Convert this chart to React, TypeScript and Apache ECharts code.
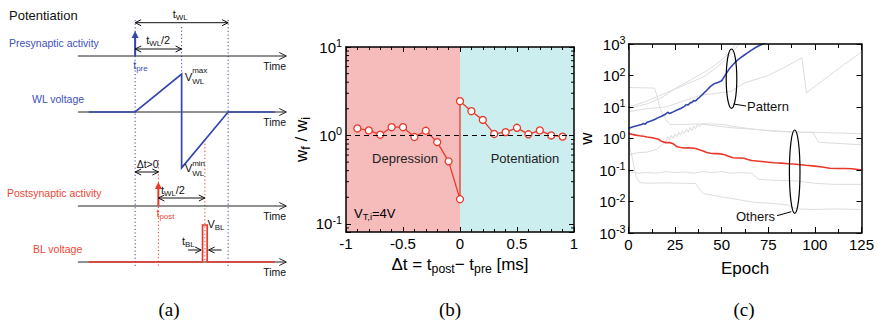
import React, { useEffect, useRef } from 'react';
import * as echarts from 'echarts';

// ---------------- (a) schematic timing values (time unit = t_WL / 2) ----------------
const tPre = 0;
const tWL = 2;
const deltaT = 0.5;
const tBL = 0.1;
const wlWaveT = [-1, 0, 1, 1, 2, 3];
const wlWaveV = [0, 0, 1, -1.47, 0, 0];
const blWaveT = [-1, 1.45, 1.45, 1.55, 1.55, 3];
const blWaveV = [0, 0, 1, 1, 0, 0];
const spikeV = 1;

// ---------------- (b) STDP window ----------------
const stdpDt = [-0.9, -0.8, -0.7, -0.6, -0.5, -0.4, -0.3, -0.2, -0.1, 0, 0, 0.1, 0.2, 0.3, 0.4, 0.5, 0.6, 0.7, 0.8, 0.9];
const stdpRatio = [1.2, 1.14, 1.02, 1.24, 1.24, 0.96, 1.13, 0.84, 0.51, 0.19, 2.44, 1.88, 1.5, 1.04, 1.09, 1.22, 1.03, 1.14, 1.0, 0.97];
const bMinorTicks = [0.09, 0.2, 0.3, 0.4, 0.5, 0.6, 0.7, 0.8, 0.9, 2, 3, 4, 5, 6, 7, 8, 9];

// ---------------- (c) weight evolution ----------------
const patternEpoch = [0, 1, 2, 3, 4, 5, 6, 7, 8, 9, 10, 12, 14, 16, 18, 20, 21, 22, 23, 24, 26, 28, 30, 31, 32, 33, 34, 35, 36, 37, 38, 40, 42, 44, 46, 48, 50, 52, 54, 56, 58, 60, 62, 64, 66, 68, 70, 72, 74];
const patternW = [2.1, 2.2, 2.3, 2.4, 2.5, 2.6, 2.7, 2.8, 3.0, 2.85, 3.3, 3.6, 4.0, 4.6, 5.2, 6.0, 6.8, 6.2, 6.6, 7.0, 8.0, 9.0, 10.5, 12, 11.5, 13.5, 14, 16, 15.5, 18, 20, 26, 34, 45, 55, 60, 68, 105, 160, 220, 290, 360, 440, 530, 640, 760, 880, 1000, 1150];
const redEpoch = [0, 2, 4, 6, 8, 10, 12, 14, 16, 18, 20, 22, 24, 26, 28, 30, 32, 34, 36, 38, 40, 42, 44, 46, 48, 50, 52, 54, 56, 58, 60, 62, 64, 66, 70, 74, 78, 82, 86, 90, 95, 100, 104, 108, 112, 116, 120, 125];
const redW = [1.45, 1.35, 1.28, 1.22, 1.18, 1.12, 1.08, 1.02, 0.95, 0.8, 0.74, 0.75, 0.68, 0.55, 0.52, 0.5, 0.51, 0.5, 0.48, 0.44, 0.4, 0.36, 0.34, 0.33, 0.33, 0.32, 0.3, 0.27, 0.245, 0.24, 0.24, 0.235, 0.215, 0.2, 0.19, 0.18, 0.17, 0.165, 0.158, 0.152, 0.142, 0.133, 0.125, 0.114, 0.112, 0.112, 0.11, 0.1];
const other1Epoch = [0, 8, 16, 24, 32, 40, 46, 52, 56, 60];
const other1W = [10, 14, 22, 35, 56, 89, 158, 316, 562, 1120];
const other2Epoch = [0, 10, 18, 26, 34, 42, 48, 54, 58];
const other2W = [8.9, 12.6, 20, 42, 76, 141, 251, 501, 1120];
const other3Epoch = [0, 14, 15.5, 17, 20, 22, 30, 38, 45, 55, 65, 75, 85, 95, 99, 102, 110, 125];
const other3W = [41.7, 39.8, 20, 8.9, 4, 2.8, 2.8, 2.9, 2.6, 2.2, 2, 1.8, 1.66, 1.58, 1.51, 0.76, 0.71, 0.63];
const other4Epoch = [0, 10, 20, 30, 39, 45, 55, 62, 75, 85, 93, 95.5, 100, 110, 125];
const other4W = [7.1, 8.9, 10, 15.8, 24, 26.3, 31.6, 57.5, 100, 200, 363, 28.2, 44.7, 126, 562];
const other5Epoch = [0, 5, 10, 15, 18, 20, 21, 22, 23, 24, 25, 26, 27, 28, 29, 30, 31, 32, 33, 34, 35, 36, 37, 38, 39, 40, 50, 60, 70, 80, 90, 100, 110, 125];
const other5W = [0.3, 0.355, 0.37, 0.45, 0.63, 0.79, 1.12, 0.89, 1.26, 1.0, 1.41, 1.12, 1.58, 1.26, 1.78, 1.41, 2.0, 1.58, 2.24, 1.78, 2.51, 2.0, 2.82, 2.4, 2.88, 2.95, 2.82, 2.24, 1.9, 1.66, 1.58, 1.58, 1.51, 1.41];
const other6Epoch = [0, 5, 10, 15, 20, 25, 30, 35, 40, 45, 50, 55, 60, 66, 70, 80, 90, 100, 110, 125];
const other6W = [0.089, 0.079, 0.083, 0.079, 0.089, 0.083, 0.087, 0.079, 0.089, 0.083, 0.089, 0.079, 0.083, 0.079, 0.05, 0.047, 0.045, 0.038, 0.035, 0.035];
const other7Epoch = [0, 2, 4, 6, 10, 20, 30, 36, 38, 40, 45, 50, 55, 60, 68, 75, 85, 90, 100, 110, 125];
const other7W = [0.72, 0.25, 0.063, 0.04, 0.038, 0.039, 0.038, 0.037, 0.025, 0.018, 0.016, 0.014, 0.0126, 0.0112, 0.0093, 0.0089, 0.0079, 0.0058, 0.0056, 0.0058, 0.0056];
const othersEpoch = [other1Epoch, other2Epoch, other3Epoch, other4Epoch, other5Epoch, other6Epoch, other7Epoch];
const othersW = [other1W, other2W, other3W, other4W, other5W, other6W, other7W];

const FONT = '"Liberation Sans", Arial, Helvetica, sans-serif';
const SERIF = '"Liberation Serif", "Times New Roman", serif';
const BLUE = '#3446ad';
const BLUE_TXT = '#4050b5';
const RED = '#e8392b';
const RED_TXT = '#ee4636';
const PINK = '#f6bcbc';
const CYAN = '#cdeeee';
const GREY = '#dddddd';

const zip = (a: number[], b: number[]) => a.map((v, i) => [v, b[i]]);

const smallRich = (size: number, color: string) => ({
  n: { fontSize: size, fontFamily: FONT, color },
  sub: { fontSize: size * 0.72, fontFamily: FONT, color, padding: [Math.round(size * 0.55), 0, 0, 0] },
  sup: { fontSize: size * 0.72, fontFamily: FONT, color, padding: [0, 0, Math.round(size * 0.55), 0] },
});

const logLabel = (v: number) => {
  const l = Math.log10(v);
  const e = Math.round(l);
  if (Math.abs(l - e) > 1e-6) return '';
  return `{n|10}{sup|${e}}`;
};

// layout of the schematic rows (pixel baselines and amplitude)
const ROWS = {
  pre: { base: 56, amp: 25 },
  wl: { base: 112, amp: 38 },
  post: { base: 206, amp: 24 },
  bl: { base: 262, amp: 37 },
};
const AXIS_T = [-1.23, 3.25];

function renderSchematic(_params: any, api: any) {
  const X = (t: number) => api.coord([t, 0])[0];
  const Y = (p: number) => api.coord([0, p])[1];
  const kids: any[] = [];
  const line = (pts: number[][], stroke: string, lw = 1, dash?: number[]) =>
    kids.push({ type: 'polyline', shape: { points: pts }, style: { stroke, lineWidth: lw, fill: 'none', lineDash: dash || null } });
  const txt = (x: number, y: number, s: string, size: number, color: string, align = 'left', rich?: any) =>
    kids.push({
      type: 'text',
      style: { text: s, x, y, fill: color, fontSize: size, fontFamily: FONT, align, verticalAlign: 'middle', textAlign: align, textVerticalAlign: 'middle', rich },
    });
  const dimArrow = (t1: number, t2: number, py: number) => {
    const a = X(t1), b = X(t2), y = Y(py);
    line([[a, y], [b, y]], '#111', 1);
    line([[a + 6, y - 3], [a, y], [a + 6, y + 3]], '#111', 1);
    line([[b - 6, y - 3], [b, y], [b - 6, y + 3]], '#111', 1);
  };
  const spike = (t: number, row: { base: number; amp: number }, color: string) => {
    const x = X(t), y0 = Y(row.base), y1 = Y(row.base - spikeV * row.amp);
    line([[x, y0], [x, y1 + 5]], color, 2);
    kids.push({ type: 'polygon', shape: { points: [[x, y1], [x - 3.5, y1 + 7], [x + 3.5, y1 + 7]] }, style: { fill: color } });
  };

  // dotted guide lines
  const dot = [1.2, 2.4];
  line([[X(tPre), Y(20)], [X(tPre), Y(266)]], BLUE, 1, dot);
  line([[X(tPre + tWL), Y(20)], [X(tPre + tWL), Y(266)]], BLUE, 1, dot);
  line([[X(tPre + tWL / 2), Y(27)], [X(tPre + tWL / 2), Y(74)]], BLUE, 1, dot);
  line([[X(tPre + deltaT), Y(160)], [X(tPre + deltaT), Y(266)]], RED, 1, dot);
  line([[X(tPre + deltaT + tWL / 2), Y(140)], [X(tPre + deltaT + tWL / 2), Y(262)]], RED, 1, dot);

  // time axes
  (Object.keys(ROWS) as (keyof typeof ROWS)[]).forEach((k) => {
    const y = Y(ROWS[k].base);
    const x0 = X(AXIS_T[0]), x1 = X(AXIS_T[1]);
    line([[x0, y], [x1, y]], '#222', 1);
    line([[x1 - 7, y - 3.5], [x1, y], [x1 - 7, y + 3.5]], '#222', 1);
    txt(x1 - 23, y + 9.5, 'Time', 10.5, '#111');
  });

  // waveforms
  line(wlWaveT.map((t, i) => [X(t), Y(ROWS.wl.base - wlWaveV[i] * ROWS.wl.amp)]), BLUE, 1.7);
  line(blWaveT.map((t, i) => [X(t), Y(ROWS.bl.base - blWaveV[i] * ROWS.bl.amp)]), RED, 1.7);
  spike(tPre, ROWS.pre, BLUE);
  spike(tPre + deltaT, ROWS.post, RED);

  // dimension arrows
  dimArrow(tPre, tPre + tWL, 22.7);
  dimArrow(tPre, tPre + tWL / 2, 49);
  dimArrow(tPre, tPre + deltaT, 172);
  dimArrow(tPre + deltaT, tPre + deltaT + tWL / 2, 198);
  const blC = tPre + deltaT + tWL / 2;
  const bl1 = X(blC - tBL / 2 - 0.03), bl2 = X(blC + tBL / 2 + 0.03), by = Y(250);
  line([[bl1 - 13, by], [bl1, by]], '#111', 1);
  line([[bl1 - 6, by - 3], [bl1, by], [bl1 - 6, by + 3]], '#111', 1);
  line([[bl2 + 13, by], [bl2, by]], '#111', 1);
  line([[bl2 + 6, by - 3], [bl2, by], [bl2 + 6, by + 3]], '#111', 1);

  // texts
  const rb = smallRich(11, '#111');
  const rBlue = smallRich(11, BLUE_TXT);
  const rRed = smallRich(11, RED_TXT);
  txt(9, Y(15), 'Potentiation', 13, '#111');
  txt(X(tPre + tWL / 2) - 9, Y(14), '{n|t}{sub|WL}', 11, '#111', 'left', rb);
  txt(9, Y(43), 'Presynaptic activity', 10.5, BLUE_TXT);
  txt(X(tPre) + 11, Y(40), '{n|t}{sub|WL}{n|/2}', 11, '#111', 'left', rb);
  txt(X(tPre) - 2, Y(65), '{n|t}{sub|pre}', 11, BLUE_TXT, 'left', rBlue);
  txt(32, Y(99), 'WL voltage', 10.5, BLUE_TXT);
  const vx = X(tPre + tWL / 2);
  txt(vx + 3, Y(76.5), 'V', 11.5, '#111');
  txt(vx + 10.5, Y(70), 'max', 8, '#111');
  txt(vx + 10.5, Y(81), 'WL', 8, '#111');
  txt(vx + 3, Y(168), 'V', 11.5, '#111');
  txt(vx + 10.5, Y(163), 'min', 8, '#111');
  txt(vx + 10.5, Y(173), 'WL', 8, '#111');
  txt(X(tPre) + 1.5, Y(163.5), 'Δt>0', 10.5, '#111');
  txt(7, Y(193), 'Postsynaptic activity', 10.5, RED_TXT);
  txt(X(tPre + deltaT) + 2.5, Y(190), '{n|t}{sub|WL}{n|/2}', 11, '#111', 'left', rb);
  txt(X(tPre + deltaT) - 2, Y(213), '{n|t}{sub|post}', 11, RED_TXT, 'left', rRed);
  txt(33, Y(248.5), 'BL voltage', 10.5, RED_TXT);
  txt(X(blC) + 2.5, Y(224), '{n|V}{sub|BL}', 11, '#111', 'left', rb);
  txt(X(blC) - 23, Y(241), '{n|t}{sub|BL}', 11, '#111', 'left', rb);

  return { type: 'group', children: kids };
}

function renderMinorTicks(_params: any, api: any) {
  const v = api.value(1);
  const l = api.coord([-1, v]);
  const r = api.coord([1, v]);
  return {
    type: 'group',
    children: [
      { type: 'line', shape: { x1: l[0], y1: l[1], x2: l[0] + 3, y2: l[1] }, style: { stroke: '#000', lineWidth: 1 } },
      { type: 'line', shape: { x1: r[0] - 3, y1: r[1], x2: r[0], y2: r[1] }, style: { stroke: '#000', lineWidth: 1 } },
    ],
  };
}

const AXIS_LINE = { onZero: false, lineStyle: { color: '#000', width: 1.5 } };
const TICK = { inside: true, length: 5, lineStyle: { color: '#000', width: 1 } };
const labelRich = smallRich(15, '#000');

function buildOption(): any {
  const boxAxis = (extra: any) => ({
    z: 10,
    axisLine: AXIS_LINE,
    axisTick: TICK,
    splitLine: { show: false },
    ...extra,
  });
  return {
    animation: false,
    textStyle: { fontFamily: FONT },
    grid: [
      { left: 77, top: 0, width: 209.25, height: 322 },
      { left: 346, top: 47, width: 228, height: 185 },
      { left: 628.5, top: 44, width: 233.5, height: 189 },
    ],
    xAxis: [
      { gridIndex: 0, type: 'value', min: -1.25, max: 3.25, show: false },
      boxAxis({
        gridIndex: 1, type: 'value', min: -1, max: 1, interval: 0.5, position: 'bottom',
        minorTick: { show: true, splitNumber: 5, length: 3, lineStyle: { color: '#000' } },
        axisLabel: { color: '#000', fontSize: 15, fontFamily: FONT, margin: 4 },
        name: '{n|Δt = t}{sub|post}{n|− t}{sub|pre}{n| [ms]}',
        nameLocation: 'middle', nameGap: 21,
        nameTextStyle: { rich: smallRich(17, '#000') },
      }),
      boxAxis({
        gridIndex: 1, type: 'value', min: -1, max: 1, interval: 0.5, position: 'top',
        minorTick: { show: true, splitNumber: 5, length: 3, lineStyle: { color: '#000' } },
        axisLabel: { show: false },
      }),
      boxAxis({
        gridIndex: 2, type: 'value', min: 0, max: 125, interval: 25, position: 'bottom',
        axisTick: { inside: true, length: 6, lineStyle: { color: '#000' } },
        minorTick: { show: true, splitNumber: 2, length: 4, lineStyle: { color: '#000' } },
        axisLabel: { color: '#000', fontSize: 15, fontFamily: FONT, margin: 4 },
        name: 'Epoch', nameLocation: 'middle', nameGap: 27,
        nameTextStyle: { fontSize: 17, color: '#000', fontFamily: FONT },
      }),
      boxAxis({
        gridIndex: 2, type: 'value', min: 0, max: 125, interval: 25, position: 'top',
        axisTick: { inside: true, length: 6, lineStyle: { color: '#000' } },
        minorTick: { show: true, splitNumber: 2, length: 4, lineStyle: { color: '#000' } },
        axisLabel: { show: false },
      }),
    ],
    yAxis: [
      { gridIndex: 0, type: 'value', min: 0, max: 322, inverse: true, show: false },
      boxAxis({
        gridIndex: 1, type: 'log', logBase: 10, min: 0.081, max: 10, splitNumber: 3, position: 'left',
        axisLabel: { formatter: logLabel, rich: labelRich, margin: 4 },
        name: '{n|w}{sub|f}{n| / w}{sub|i}', nameLocation: 'middle', nameGap: 27, nameRotate: 90,
        nameTextStyle: { rich: smallRich(17, '#000') },
      }),
      boxAxis({
        gridIndex: 1, type: 'log', logBase: 10, min: 0.081, max: 10, splitNumber: 3, position: 'right',
        axisLabel: { show: false },
      }),
      boxAxis({
        gridIndex: 2, type: 'log', logBase: 10, min: 0.001, max: 1000, splitNumber: 6, position: 'left',
        axisLabel: { formatter: logLabel, rich: labelRich, margin: 3 },
        name: 'w', nameLocation: 'middle', nameGap: 27, nameRotate: 90,
        nameTextStyle: { fontSize: 17, color: '#000', fontFamily: FONT },
      }),
      boxAxis({
        gridIndex: 2, type: 'log', logBase: 10, min: 0.001, max: 1000, splitNumber: 6, position: 'right',
        axisLabel: { show: false },
      }),
    ],
    series: [
      {
        type: 'custom', xAxisIndex: 0, yAxisIndex: 0, data: [[0, 0]], clip: false, silent: true,
        renderItem: renderSchematic,
      },
      {
        type: 'line', xAxisIndex: 1, yAxisIndex: 1, data: zip(stdpDt, stdpRatio),
        lineStyle: { color: RED, width: 1.3 },
        symbol: 'circle', symbolSize: 7, showSymbol: true,
        itemStyle: { color: '#fff', borderColor: RED, borderWidth: 1.3 },
        z: 4,
        markArea: {
          silent: true,
          data: [
            [{ xAxis: -1, itemStyle: { color: PINK, opacity: 1 } }, { xAxis: 0 }],
            [{ xAxis: 0, itemStyle: { color: CYAN, opacity: 1 } }, { xAxis: 1 }],
          ],
        },
        markLine: {
          silent: true, symbol: ['none', 'none'], label: { show: false },
          lineStyle: { color: '#000', type: [5, 4], width: 1 },
          data: [{ yAxis: 1 }],
        },
      },
      {
        type: 'custom', xAxisIndex: 1, yAxisIndex: 1, silent: true, z: 11, clip: false,
        data: bMinorTicks.map((v) => [0, v]),
        renderItem: renderMinorTicks,
      },
      ...othersW.map((w, i) => ({
        type: 'line', xAxisIndex: 3, yAxisIndex: 3, data: zip(othersEpoch[i], w),
        showSymbol: false, symbol: 'none', lineStyle: { color: GREY, width: 1 }, silent: true, z: 2,
      })),
      {
        type: 'line', xAxisIndex: 3, yAxisIndex: 3, data: zip(redEpoch, redW),
        showSymbol: false, symbol: 'none', lineStyle: { color: RED, width: 1.6 }, z: 3,
      },
      {
        type: 'line', xAxisIndex: 3, yAxisIndex: 3, data: zip(patternEpoch, patternW),
        showSymbol: false, symbol: 'none', lineStyle: { color: BLUE, width: 1.6 }, z: 3,
      },
    ],
    graphic: [
      // (b) annotations
      { type: 'text', z: 20, style: { text: 'Depression', x: 405, y: 158, align: 'center', verticalAlign: 'middle', textAlign: 'center', textVerticalAlign: 'middle', fontSize: 13, fontFamily: FONT, fill: '#222' } },
      { type: 'text', z: 20, style: { text: 'Potentiation', x: 525, y: 158, align: 'center', verticalAlign: 'middle', textAlign: 'center', textVerticalAlign: 'middle', fontSize: 13, fontFamily: FONT, fill: '#222' } },
      { type: 'text', z: 20, style: { text: '{n|V}{sub|T,i}{n|=4V}', rich: smallRich(13, '#222'), x: 354, y: 213, align: 'left', verticalAlign: 'middle', textAlign: 'left', textVerticalAlign: 'middle' } },
      // (c) annotations
      { type: 'ellipse', z: 20, shape: { cx: 731.5, cy: 78.7, rx: 5.3, ry: 29.7 }, style: { fill: 'none', stroke: '#000', lineWidth: 1.2 } },
      { type: 'line', z: 20, shape: { x1: 733.5, y1: 104, x2: 746, y2: 106 }, style: { stroke: '#000', lineWidth: 1 } },
      { type: 'text', z: 20, style: { text: 'Pattern', x: 747, y: 106, align: 'left', verticalAlign: 'middle', textAlign: 'left', textVerticalAlign: 'middle', fontSize: 13, fontFamily: FONT, fill: '#111' } },
      { type: 'ellipse', z: 20, shape: { cx: 794.7, cy: 171.7, rx: 5.3, ry: 41.7 }, style: { fill: 'none', stroke: '#000', lineWidth: 1.2 } },
      { type: 'line', z: 20, shape: { x1: 791.3, y1: 211.7, x2: 777, y2: 215.7 }, style: { stroke: '#000', lineWidth: 1 } },
      { type: 'text', z: 20, style: { text: 'Others', x: 775, y: 216.5, align: 'right', verticalAlign: 'middle', textAlign: 'right', textVerticalAlign: 'middle', fontSize: 13, fontFamily: FONT, fill: '#111' } },
      // panel labels
      { type: 'text', style: { text: '(a)', x: 169, y: 309, align: 'center', verticalAlign: 'middle', textAlign: 'center', textVerticalAlign: 'middle', fontSize: 19, fontFamily: SERIF, fill: '#000' } },
      { type: 'text', style: { text: '(b)', x: 450, y: 309, align: 'center', verticalAlign: 'middle', textAlign: 'center', textVerticalAlign: 'middle', fontSize: 19, fontFamily: SERIF, fill: '#000' } },
      { type: 'text', style: { text: '(c)', x: 744, y: 309, align: 'center', verticalAlign: 'middle', textAlign: 'center', textVerticalAlign: 'middle', fontSize: 19, fontFamily: SERIF, fill: '#000' } },
    ],
  };
}

export default function App() {
  const ref = useRef<HTMLDivElement>(null);
  useEffect(() => {
    if (!ref.current) return;
    const chart = echarts.init(ref.current, undefined, { renderer: 'svg' });
    chart.setOption(buildOption());
    return () => chart.dispose();
  }, []);
  return (
    <div
      ref={ref}
      style={{ position: 'fixed', left: 0, top: 0, width: 877, height: 322, background: '#fff' }}
    />
  );
}
